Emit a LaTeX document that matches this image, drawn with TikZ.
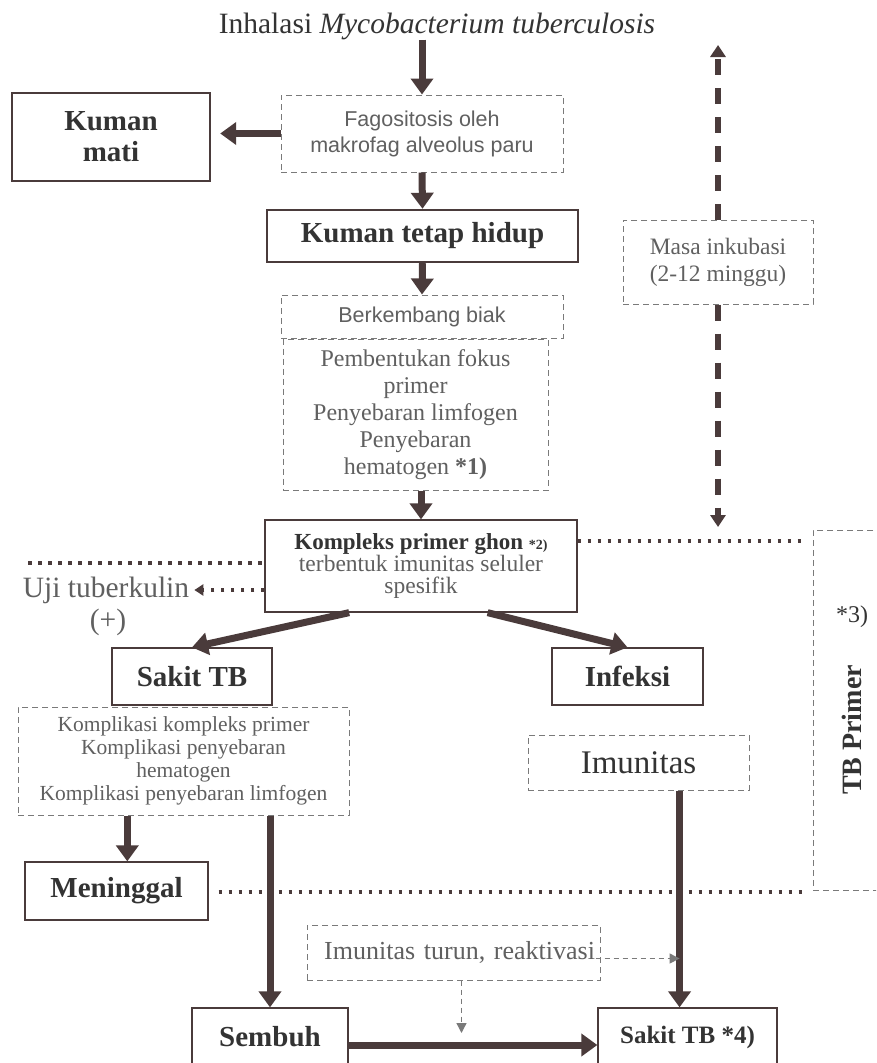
\documentclass[tikz,border=0pt]{standalone}
\usepackage{fontspec}
\setmainfont{Liberation Serif}
\setsansfont{Liberation Sans}
\usepackage{tikz}
\usetikzlibrary{arrows.meta,calc}
\definecolor{ink}{HTML}{4A3B3B}
\definecolor{txt}{HTML}{333333}
\definecolor{muted}{HTML}{606060}
\definecolor{dash}{HTML}{7A7A7A}
\newcommand{\sztitle}{\fontsize{29.5}{33}\selectfont}
\newcommand{\szbig}{\fontsize{29}{31}\selectfont}
\newcommand{\szsans}{\fontsize{21.5}{26}\selectfont}
\newcommand{\szmid}{\fontsize{24}{27}\selectfont}
\newcommand{\szghon}{\fontsize{23.5}{22}\selectfont}
\newcommand{\szsmall}{\fontsize{21.5}{23}\selectfont}
\newcommand{\sznote}{\fontsize{14}{15}\selectfont}
\tikzset{
  solidbox/.style={draw=ink, line width=1.3pt, text=txt, align=center, inner sep=0pt},
  thickbox/.style={solidbox, line width=2.4pt},
  dashbox/.style={draw=dash, line width=1pt, dash pattern=on 6pt off 4pt, text=muted, align=center, inner sep=0pt},
  arr/.style={draw=ink, line width=7pt, -{Triangle[length=16pt,width=22pt]}},
  dotline/.style={draw=ink, line width=3.5pt, dash pattern=on 3.5pt off 6.5pt},
  dotarr/.style={dotline, -{Triangle[length=9pt,width=11pt]}},
  dasharr/.style={draw=ink, line width=6pt, dash pattern=on 16pt off 13pt, -{Triangle[length=12pt,width=15pt]}},
  thinarr/.style={draw=dash, line width=1.3pt, dash pattern=on 5pt off 4pt, -{Triangle[length=10pt,width=10pt]}},
  lbl/.style={text=txt, align=center, inner sep=0pt}
}

\begin{document}
\begin{tikzpicture}[x=1pt, y=-1pt]
  \useasboundingbox (0,0) rectangle (876,1063);
  \fill[white] (0,0) rectangle (876,1063);
  \clip (0,0) rectangle (876,1063);

  \node[lbl, font=\sztitle] (title) at (437,26) {Inhalasi \textit{Mycobacterium tuberculosis}};
  \node[dashbox, font=\sffamily\szsans, minimum width=282pt, minimum height=77pt] (fago) at (422,133.5) {Fagositosis oleh\\makrofag alveolus paru};
  \node[thickbox, font=\bfseries\szbig, minimum width=198pt, minimum height=88pt] (mati) at (111,137) {Kuman\\mati};
  \node[thickbox, font=\bfseries\szbig, minimum width=311pt, minimum height=52pt] (hidup) at (422.5,236) {Kuman tetap hidup};
  \node[dashbox, font=\sffamily\szsans, minimum width=282pt, minimum height=43pt] (biak) at (422,316.5) {Berkembang biak};
  \node[dashbox, font=\szmid, minimum width=265pt, minimum height=151pt] (fokus) at (415.5,415) {Pembentukan fokus\\primer\\Penyebaran limfogen\\Penyebaran\\hematogen \textbf{*1)}};
  \node[solidbox, font=\szghon, minimum width=312pt, minimum height=92pt] (ghon) at (421,566) {{\fontsize{23}{22}\selectfont\textbf{Kompleks primer ghon}} {\sznote\textbf{*2)}}\\\textcolor{muted}{terbentuk imunitas seluler}\\\textcolor{muted}{spesifik}};

  \node[lbl, font=\sztitle, text=muted] (uji) at (106,590) {Uji tuberkulin};
  \node[lbl, font=\sztitle, text=muted] (plus) at (108,622) {(+)};

  \node[solidbox, font=\bfseries\szbig, minimum width=160pt, minimum height=57pt] (sakit) at (192,676.5) {Sakit TB};
  \node[solidbox, font=\bfseries\szbig, minimum width=151pt, minimum height=57pt] (infeksi) at (627.5,676.5) {Infeksi};
  \node[dashbox, font=\szsmall, minimum width=331pt, minimum height=108pt] (komp) at (183.5,761) {Komplikasi kompleks primer\\Komplikasi penyebaran\\hematogen\\Komplikasi penyebaran limfogen};
  \node[dashbox, font=\fontsize{33}{35}\selectfont, text=txt, minimum width=221pt, minimum height=55pt] (imun) at (638.5,762.5) {Imunitas};
  \node[solidbox, font=\bfseries\szbig, minimum width=183pt, minimum height=58pt] (meninggal) at (116.5,891) {Meninggal};
  \node[dashbox, font=\fontsize{26}{28}\selectfont, text width=283pt, align=right, minimum width=293pt, minimum height=55pt] (turun) at (453.5,952.5) {Imunitas turun, reaktivasi};
  \node[solidbox, font=\bfseries\szbig, minimum width=156pt, minimum height=58pt] (sembuh) at (270,1037) {Sembuh};
  \node[solidbox, font=\bfseries\fontsize{25}{27}\selectfont, minimum width=179pt, minimum height=58pt] (sakit4) at (687.5,1037) {Sakit TB *4)};

  \node[dashbox, font=\fontsize{23.5}{27}\selectfont, minimum width=190pt, minimum height=84pt] (masa) at (718,262) {Masa inkubasi\\(2-12 minggu)};
  \node[dashbox, minimum width=90pt, minimum height=360pt] (primer) at (858,710) {};
  \node[lbl, font=\szmid] (note3) at (852,617) {*3)};
  \node[lbl, font=\bfseries\fontsize{28}{30}\selectfont, rotate=90] (tbp) at (852,730) {TB Primer};

  \coordinate (dl) at (28,563);
  \coordinate (dr) at (806,541);
  \coordinate (dm) at (808,892);
  \coordinate (masatop) at (718,45);
  \coordinate (masabot) at (718,527);

  % main chain
  \draw[arr] (fago.north |- title.south) -- (fago.north);
  \draw[arr, shorten >=9pt] (fago.west) -- (fago.west -| mati.east);
  \draw[arr] (fago.south) -- (hidup.north);
  \draw[arr] (hidup.south) -- (biak.north);
  \draw[arr] (ghon.north |- fokus.south) -- (ghon.north);

  \draw[dasharr] (masa.north) -- (masatop);
  \draw[dasharr] (masa.south) -- (masabot);

  \draw[dotline] (dl) -- (dl -| ghon.west);
  \draw[dotline] (ghon.east |- dr) -- (dr);
  \draw[dotarr, shorten >=5pt] (ghon.west |- uji) -- (uji.east);

  \draw[arr] (ghon.213) -- (sakit.north);
  \draw[arr] (ghon.325) -- (infeksi.north);
  \draw[arr] (komp.south -| meninggal.70) -- (meninggal.70);
  \draw[arr] (komp.south -| sembuh.north) -- (sembuh.north);
  \draw[arr] (imun.south -| sakit4.105) -- (sakit4.105);
  \draw[dotline, shorten <=10pt] (meninggal.east |- dm) -- (dm);

  \draw[thinarr] ([xshift=-5pt, yshift=-6pt]turun.east) -- ([yshift=-6pt]turun.east -| sakit4.105);
  \draw[thinarr, shorten >=4pt] ([xshift=8pt]turun.south) -- ([xshift=8pt]turun.south |- sakit4.west);
  \draw[arr] ([yshift=-8pt]sembuh.east) -- ([yshift=-8pt]sakit4.west);
\end{tikzpicture}
\end{document}
